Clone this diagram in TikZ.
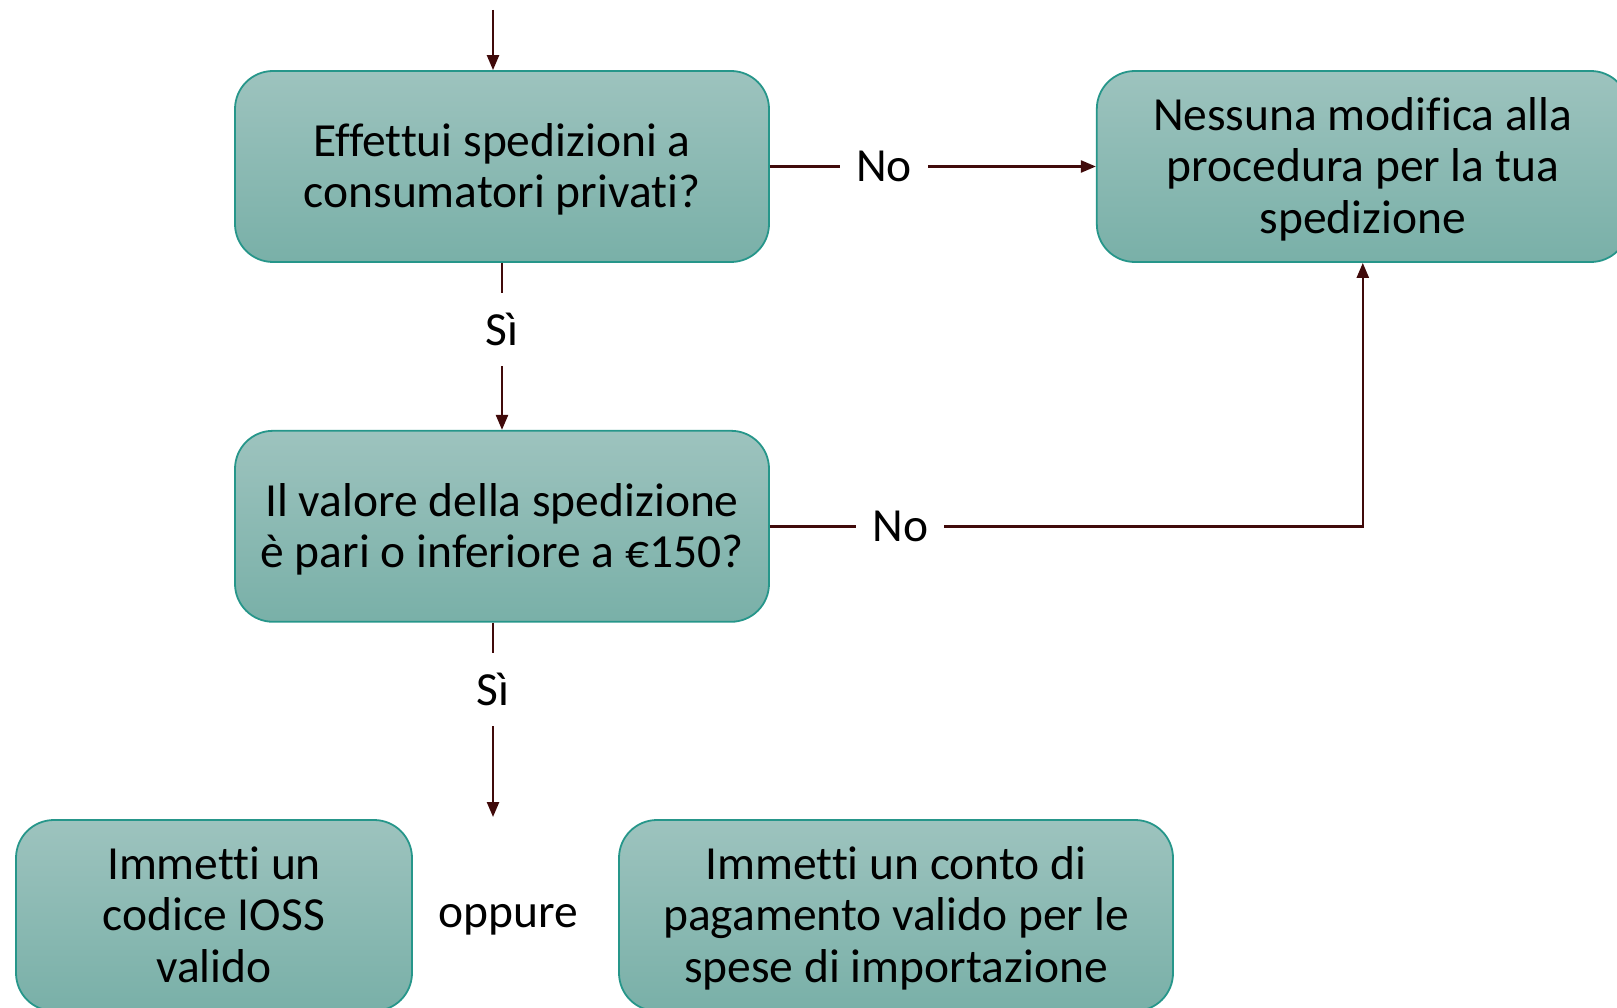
\documentclass[tikz,border=0pt]{standalone}
\usepackage{fontspec}
\setmainfont{Carlito}[Ligatures=NoCommon]
\usetikzlibrary{arrows.meta,positioning}
\definecolor{boxtop}{RGB}{157,195,190}
\definecolor{boxbot}{RGB}{121,176,168}
\definecolor{boxline}{RGB}{38,150,138}
\definecolor{arr}{RGB}{64,10,10}

\begin{document}
\begin{tikzpicture}[x=1pt,y=-1pt,
  bx/.style={rectangle,draw=boxline,line width=1.8pt,rounded corners=38pt,top color=boxtop,bottom color=boxbot,minimum height=191pt,align=center,inner sep=0pt,font=\fontsize{47.5}{51.5}\selectfont,text depth=2pt},
  lbl/.style={fill=white,inner sep=20pt,font=\fontsize{47.5}{51.5}\selectfont},
  ar/.style={draw=arr,line width=2.4pt,-{Triangle[length=15pt,width=12pt]}}]
  \useasboundingbox (0,0) rectangle (1617,1008);

  \node[bx,minimum width=534pt] (q1) at (502,166.5) {\vspace*{8pt}Effettui spedizioni a\\consumatori privati?};
  \node[bx,minimum width=532pt,right=326pt of q1] (none) {\vspace*{8pt}Nessuna modifica alla\\procedura per la tua\\spedizione};
  \node[bx,minimum width=534pt,below=167pt of q1] (q2) {\vspace*{4pt}Il valore della spedizione\\è pari o inferiore a €150?};
  \node[bx,minimum width=396pt] (ioss) at (214,915.5) {Immetti un\\codice IOSS\\valido};
  \node[bx,minimum width=554pt] (pay) at (896,915.5) {\vspace*{8pt}Immetti un conto di\\pagamento valido per le\\spese di importazione};
  \node[font=\fontsize{47.5}{51.5}\selectfont] (or) at (508,920) {oppure};

  \coordinate (start) at (493,10);
  \coordinate (split) at (493,817);

  \draw[ar] (start) -- (start |- q1.north);
  \draw[ar] (q1) -- node[lbl,inner xsep=16pt,pos=.35] {No} (none);
  \draw[ar] (q1) -- node[lbl,pos=.4] {Sì} (q2);
  \draw[ar] (q2.east) -- node[lbl,inner xsep=16pt,pos=.22] {No} (q2.east -| none.south) -- (none.south);
  \draw[ar] (q2.south -| split) -- node[lbl,pos=.345] {Sì} (split);
\end{tikzpicture}
\end{document}
